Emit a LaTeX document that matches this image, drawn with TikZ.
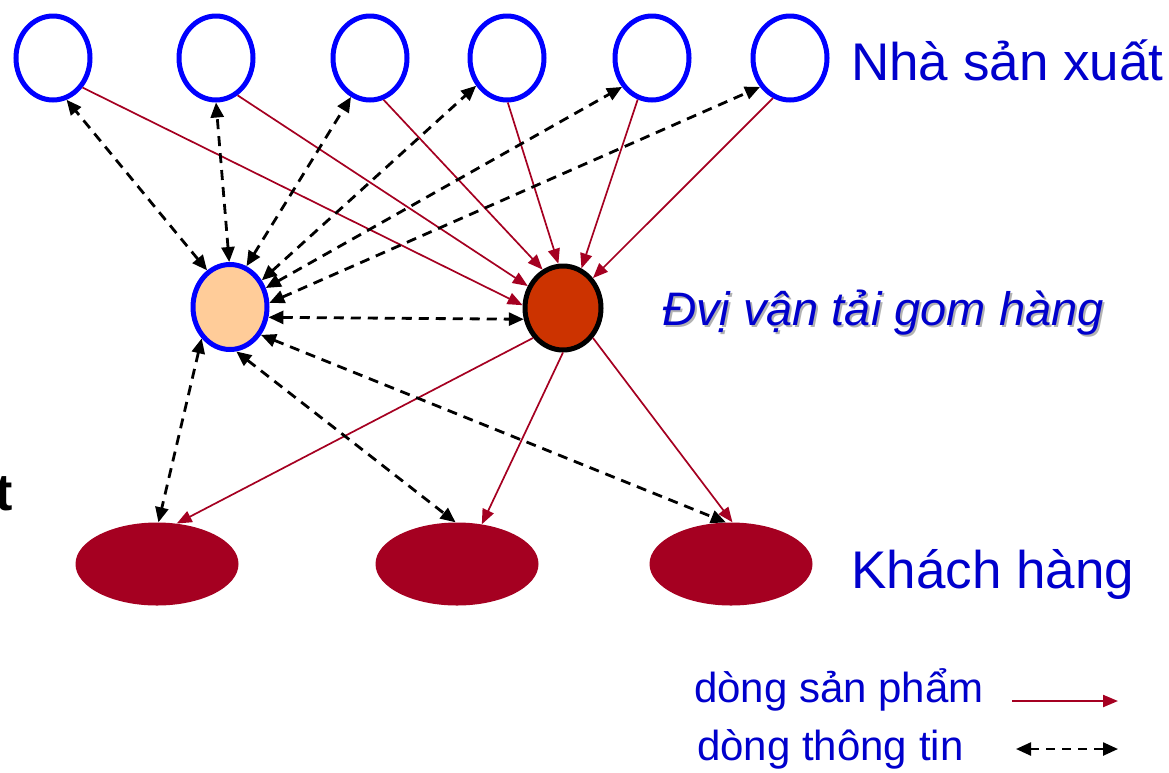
\documentclass[tikz,border=0pt]{standalone}
\usepackage{fontspec}
\setmainfont{Liberation Sans}
\usetikzlibrary{shapes.geometric,arrows.meta}
\definecolor{ringblue}{HTML}{0000FF}
\definecolor{txtblue}{HTML}{0000CC}
\definecolor{prodred}{HTML}{A50021}
\definecolor{peach}{HTML}{FFCC99}
\definecolor{rust}{HTML}{CC3300}
\tikzset{
  maker/.style={ellipse,draw=ringblue,line width=5pt,fill=white,inner sep=0pt,minimum width=74pt,minimum height=84pt},
  hub/.style={ellipse,draw=ringblue,line width=5pt,fill=peach,inner sep=0pt,minimum width=74pt,minimum height=85pt},
  carrier/.style={ellipse,draw=black,line width=5pt,fill=rust,inner sep=0pt,minimum width=76pt,minimum height=84pt},
  cust/.style={ellipse,fill=prodred,inner sep=0pt,minimum width=163pt,minimum height=83pt},
  prod/.style={draw=prodred,line width=1.7pt,-{Triangle[length=15pt,width=12pt]}},
  info/.style={draw=black,line width=2.8pt,dash pattern=on 10pt off 7pt,{Triangle[length=15pt,width=13pt]}-{Triangle[length=15pt,width=13pt]}},
  lbl/.style={inner sep=0pt,text=txtblue}
}
\begin{document}
\begin{tikzpicture}[x=1pt,y=-1pt]
\useasboundingbox[fill=white] (0,0) rectangle (1169,772);
% producers
\node[maker] (c1) at (53,58) {};
\node[maker] (c2) at (216,58) {};
\node[maker] (c3) at (370,58) {};
\node[maker] (c4) at (507,58) {};
\node[maker] (c5) at (652,58) {};
\node[maker] (c6) at (790,58) {};
% middle
\node[hub] (P) at (230,307) {};
\node[carrier] (D) at (563,308) {};
% customers
\node[cust] (e1) at (157,564) {};
\node[cust] (e2) at (457,564) {};
\node[cust] (e3) at (731,564) {};
% product flows
\draw[prod] (c1.-45) -- (D.176);
\draw[prod] (c2.-60) -- (D.148);
\draw[prod] (c3.-72) -- (D.118);
\draw[prod] (c4.-89) -- (D.96);
\draw[prod] (c5.-109) -- (D.65);
\draw[prod] (c6.-113) -- (D.45);
\draw[prod] (D.-135) -- (e1.64);
\draw[prod] (D.-90) -- (e2.58);
\draw[prod] (D.-45) -- (e3.88);
% information flows
\draw[info] (P.122) -- (c1.-72);
\draw[info] (P.91) -- (c2.-90);
\draw[info] (P.68) -- (c3.-116);
\draw[info] (P.40) -- (c4.-138);
\draw[info] (P.28) -- (c5.-136);
\draw[info] (P.6) -- (c6.-136);
\draw[info] (P.-15) -- (D.-164);
\draw[info] (P.-132) -- (e1.88);
\draw[info] (P.-82) -- (e2.92);
\draw[info] (P.-42) -- (e3.97);
% labels
\node[lbl,anchor=base west,font=\fontsize{53}{53}\selectfont] (tprod) at (851,80) {Nhà sản xuất};
\node[inner sep=0pt,anchor=base west,text=black!30,font=\fontsize{47}{47}\itshape] (tcarS) at (664,327) {Đvị vận tải gom hàng};
\node[lbl,anchor=base west,font=\fontsize{47}{47}\itshape] (tcar) at (662,325) {Đvị vận tải gom hàng};
\node[lbl,anchor=base west,font=\fontsize{53}{53}\selectfont] (tcust) at (851,588) {Khách hàng};
\node[inner sep=0pt,anchor=base east,font=\fontsize{52}{52}\bfseries] (tcut) at (13,510) {ất};
% legend
\node[lbl,anchor=base west,font=\fontsize{42}{42}\selectfont] (lg1) at (694,702) {dòng sản phẩm};
\node[lbl,anchor=base west,font=\fontsize{42}{42}\selectfont] (lg2) at (697,760) {dòng thông tin};
\coordinate (a1) at (1012,701);
\coordinate (a2) at (1118,701);
\coordinate (b1) at (1016,749);
\coordinate (b2) at (1118,749);
\draw[prod,line width=2.2pt] (a1) -- (a2);
\draw[info,dash pattern=on 9pt off 7pt,line width=2.4pt] (b1) -- (b2);
\end{tikzpicture}
\end{document}
